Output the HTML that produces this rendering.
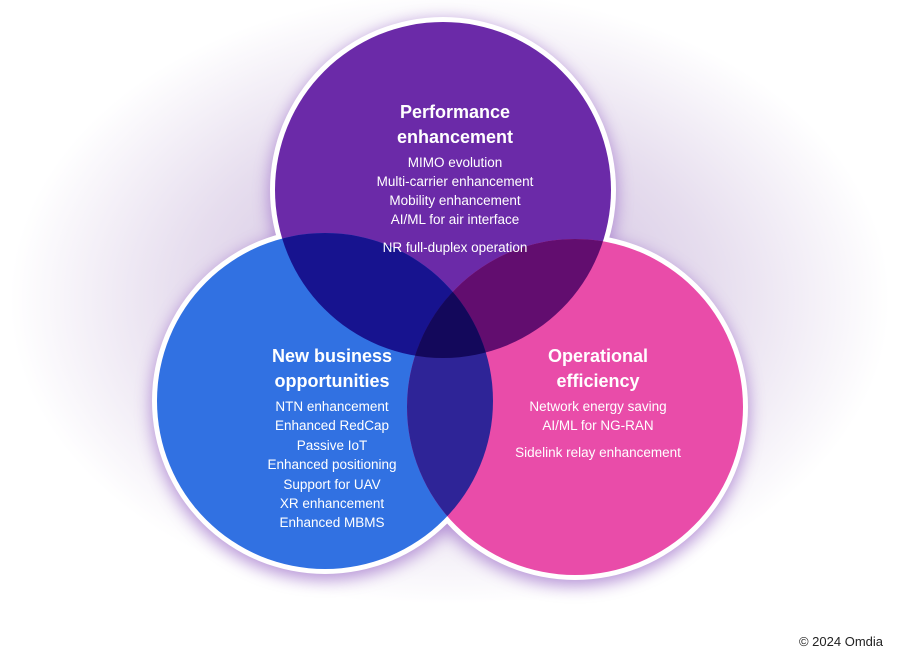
<!DOCTYPE html>
<html><head><style>
html,body{margin:0;padding:0;background:#fff;}
body{width:900px;height:662px;overflow:hidden;}
text{font-family:"Liberation Sans",sans-serif;fill:#fff;}
</style></head><body>
<svg width="900" height="662" viewBox="0 0 900 662" xmlns="http://www.w3.org/2000/svg">
<defs>
<radialGradient id="bg" cx="450" cy="300" r="440" gradientUnits="userSpaceOnUse" gradientTransform="translate(450 300) scale(1 0.7) translate(-450 -300)">
<stop offset="0" stop-color="#c9b6dc"/>
<stop offset="0.6" stop-color="#e6ddee"/>
<stop offset="1" stop-color="#ffffff"/>
</radialGradient>
<filter id="glow" x="-30%" y="-30%" width="160%" height="160%"><feGaussianBlur stdDeviation="8"/></filter>
<clipPath id="cT"><circle cx="443" cy="190" r="168"/></clipPath>
<clipPath id="cB"><circle cx="325" cy="401" r="168"/></clipPath>
<clipPath id="cP"><circle cx="575" cy="407" r="168"/></clipPath>
</defs>
<rect width="900" height="662" fill="url(#bg)"/>
<rect x="0" y="600" width="900" height="62" fill="#fff" opacity="0.5"/>
<g filter="url(#glow)" fill="#9b6cc8" opacity="0.7">
<circle cx="443" cy="194" r="174"/><circle cx="325" cy="406" r="174"/><circle cx="575" cy="412" r="174"/>
</g>
<g fill="#fff">
<circle cx="443" cy="190" r="173"/><circle cx="325" cy="401" r="173"/><circle cx="575" cy="407" r="173"/>
</g>
<circle cx="443" cy="190" r="168" fill="#6b2aa8"/>
<circle cx="325" cy="401" r="168" fill="#3171e2"/>
<circle cx="575" cy="407" r="168" fill="#e94ca9"/>
<g clip-path="url(#cT)"><circle cx="325" cy="401" r="168" fill="#17138f"/><circle cx="575" cy="407" r="168" fill="#620d6f"/></g>
<g clip-path="url(#cB)"><circle cx="575" cy="407" r="168" fill="#2e2497"/></g>
<g clip-path="url(#cT)"><g clip-path="url(#cB)"><circle cx="575" cy="407" r="168" fill="#13085b"/></g></g>
<g text-anchor="middle">
<text x="455" y="118" font-size="18" font-weight="bold">Performance</text>
<text x="455" y="143" font-size="18" font-weight="bold">enhancement</text>
<text x="455" y="167" font-size="13.5">MIMO evolution</text>
<text x="455" y="186" font-size="13.5">Multi-carrier enhancement</text>
<text x="455" y="205" font-size="13.5">Mobility enhancement</text>
<text x="455" y="224" font-size="13.5">AI/ML for air interface</text>
<text x="455" y="252" font-size="13.5">NR full-duplex operation</text>
<text x="332" y="362" font-size="18" font-weight="bold">New business</text>
<text x="332" y="387" font-size="18" font-weight="bold">opportunities</text>
<text x="332" y="411" font-size="13.5">NTN enhancement</text>
<text x="332" y="430" font-size="13.5">Enhanced RedCap</text>
<text x="332" y="450" font-size="13.5">Passive IoT</text>
<text x="332" y="469" font-size="13.5">Enhanced positioning</text>
<text x="332" y="489" font-size="13.5">Support for UAV</text>
<text x="332" y="508" font-size="13.5">XR enhancement</text>
<text x="332" y="527" font-size="13.5">Enhanced MBMS</text>
<text x="598" y="362" font-size="18" font-weight="bold">Operational</text>
<text x="598" y="387" font-size="18" font-weight="bold">efficiency</text>
<text x="598" y="411" font-size="13.5">Network energy saving</text>
<text x="598" y="430" font-size="13.5">AI/ML for NG-RAN</text>
<text x="598" y="457" font-size="13.5">Sidelink relay enhancement</text>
</g>
<text x="883" y="646" font-size="13" text-anchor="end" style="fill:#222">© 2024 Omdia</text>
</svg>
</body></html>
